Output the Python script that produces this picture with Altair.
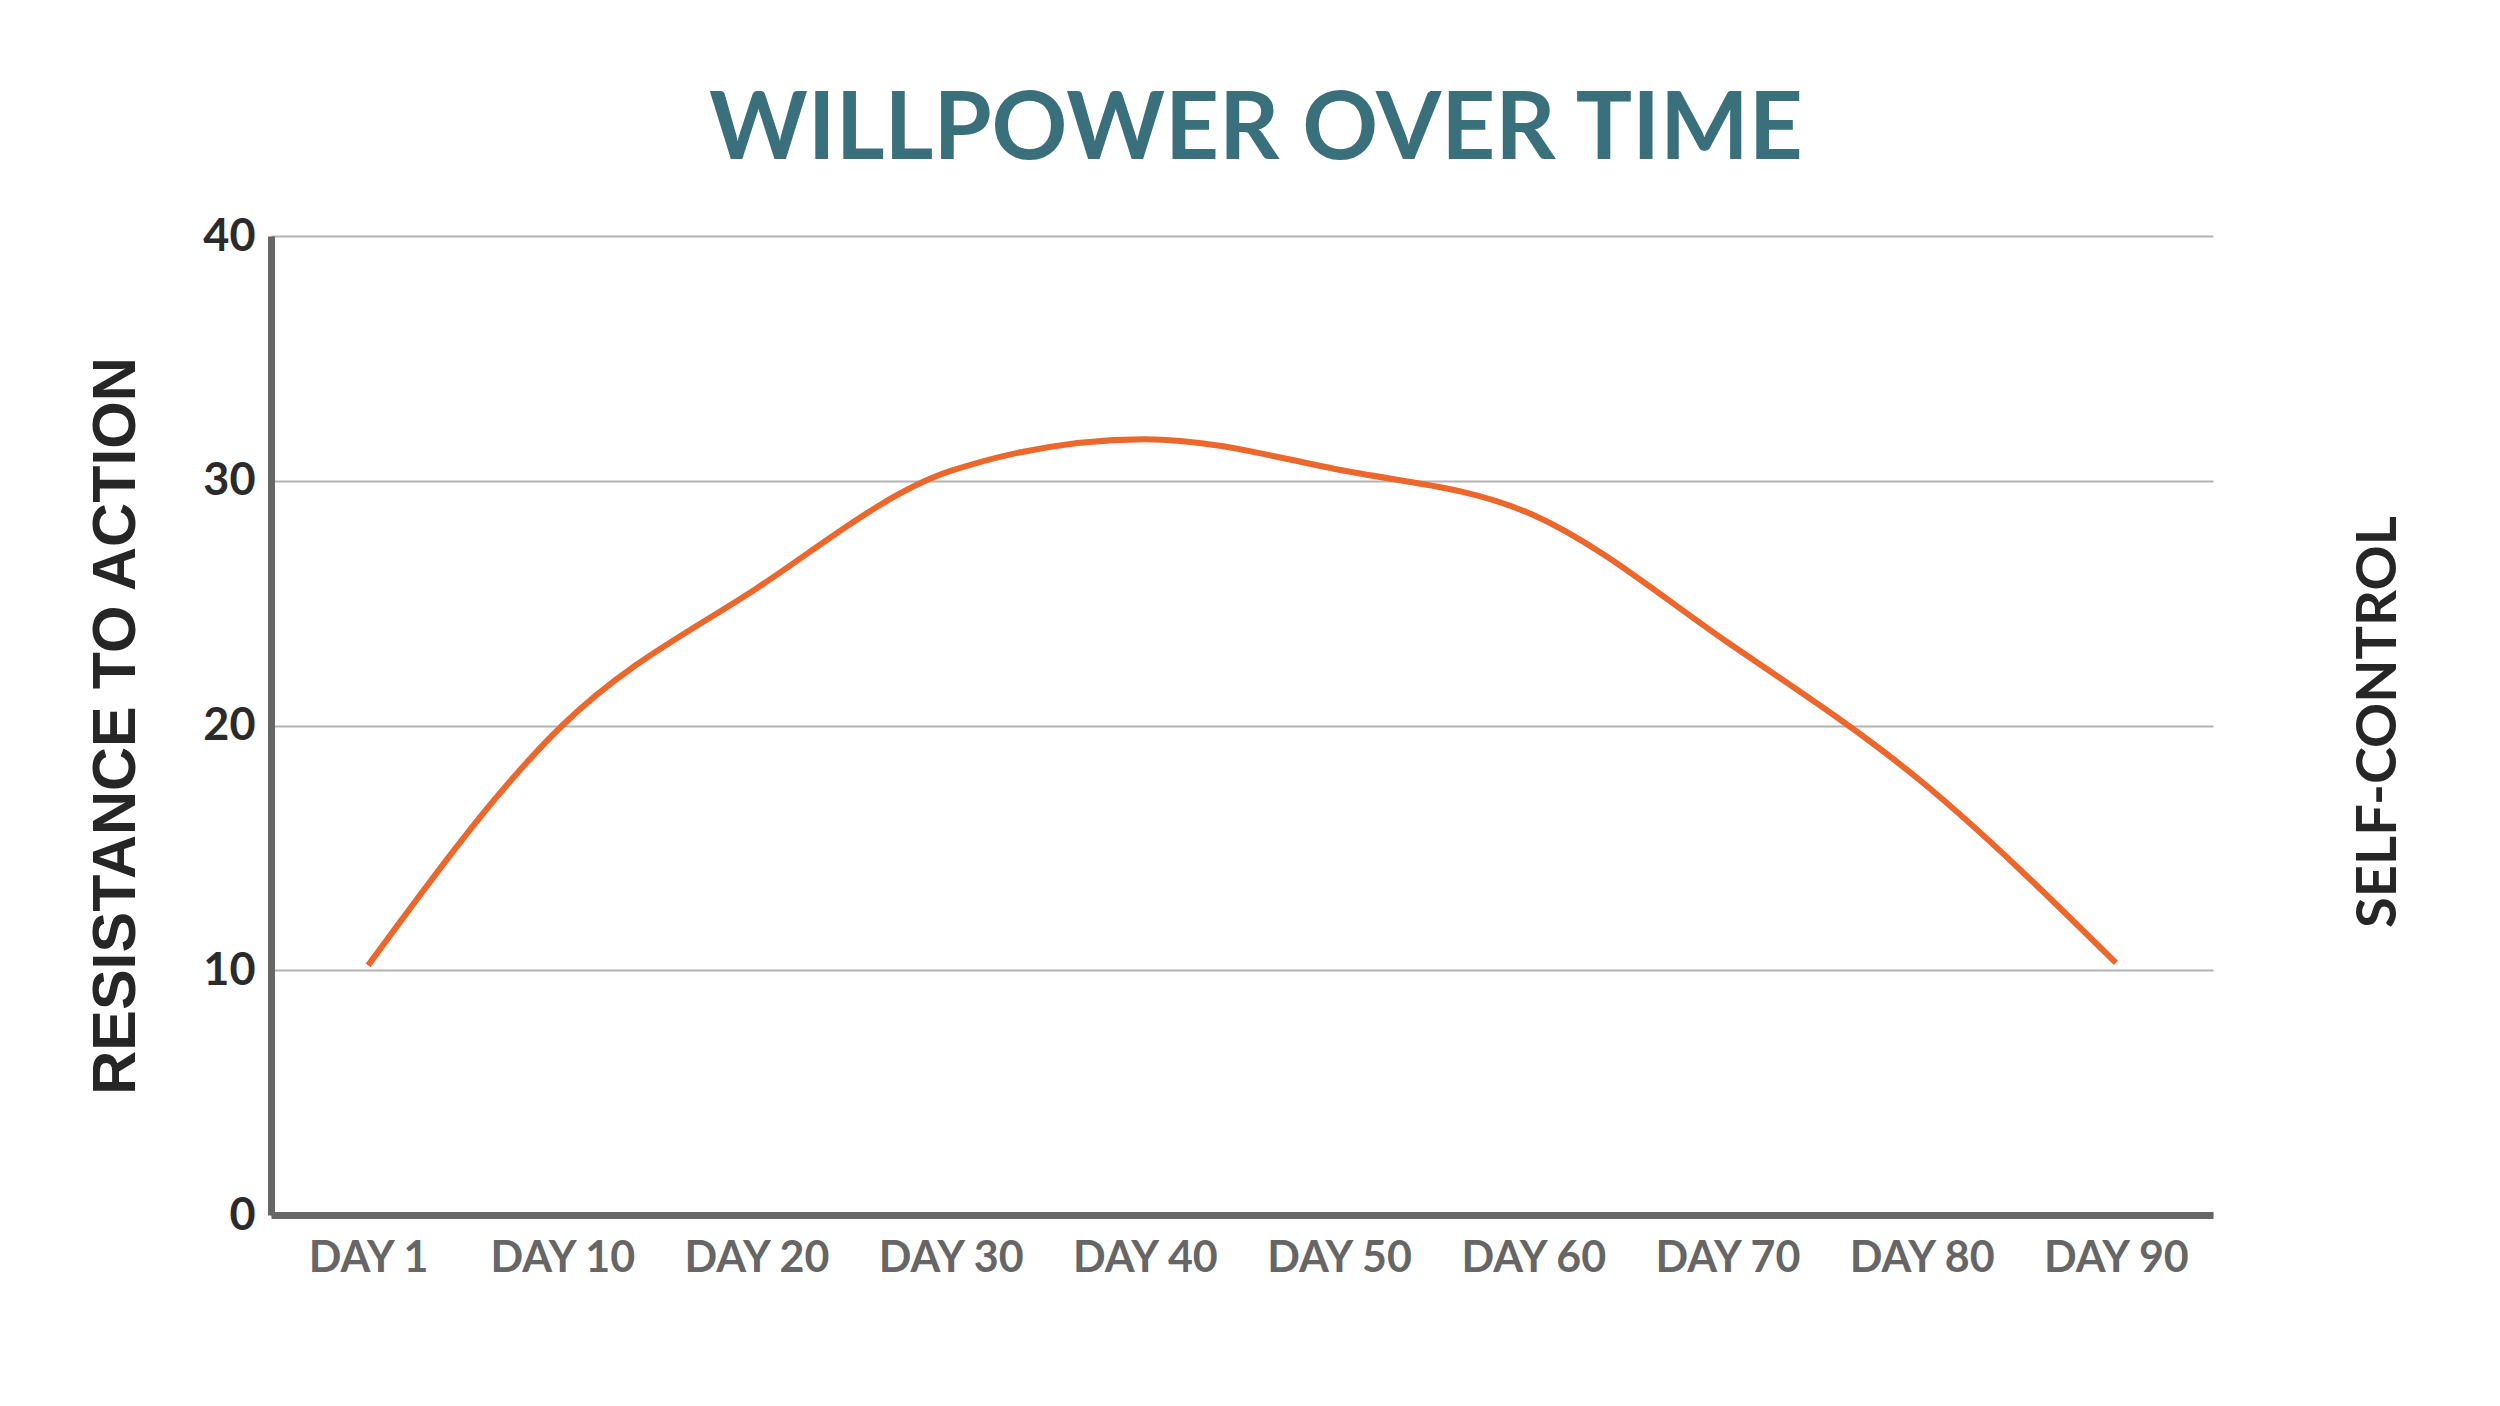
import altair as alt
import pandas as pd

days = ["DAY 1", "DAY 10", "DAY 20", "DAY 30", "DAY 40", "DAY 50", "DAY 60", "DAY 70", "DAY 80", "DAY 90"]
resistance = [10.2, 20.0, 25.6, 30.4, 31.7, 30.45, 28.6, 23.4, 17.7, 10.3]
y_ticks = [0, 10, 20, 30, 40]
right_label = ["SELF-CONTROL"]

df = pd.DataFrame({"day": days, "value": resistance})

W, H = 1942, 979

line = alt.Chart(df).mark_line(
    color="#EC672C", strokeWidth=6, interpolate="monotone"
).encode(
    x=alt.X("day:N", sort=days, scale=alt.Scale(type="point", padding=0.5),
            axis=alt.Axis(title=None, labelAngle=0, labelFont="Lato", labelFontSize=43,
                          labelFontWeight="bold", labelColor="#666666", labelPadding=22,
                          ticks=False, grid=False, domainColor="#666666", domainWidth=7)),
    y=alt.Y("value:Q", scale=alt.Scale(domain=[0, 40], nice=False),
            axis=alt.Axis(values=y_ticks, title="RESISTANCE TO ACTION",
                          titleFont="Liberation Sans", titleFontSize=61,
                          titleFontWeight="bold", titleColor="#262626",
                          titleX=-137, titleY=H / 2, titleAngle=270,
                          titleBaseline="alphabetic", titleAlign="center",
                          labelFont="Lato", labelFontSize=45, labelFontWeight="bold",
                          labelColor="#2b2b2b", labelPadding=16,
                          ticks=False, grid=True, gridColor="#b3b3b3", gridWidth=2,
                          domainColor="#666666", domainWidth=7)),
)

side = alt.Chart(alt.Data(values=[{"t": right_label[0]}])).mark_text(
    font="Lato", fontSize=56, fontWeight="bold", color="#262626", angle=270,
    align="center", baseline="middle"
).encode(
    text="t:N",
    x=alt.value(2108),
    y=alt.value(486),
)

chart = alt.layer(line, side).properties(
    width=W, height=H,
    autosize=alt.AutoSizeParams(type="none"),
    padding={"left": 263, "top": 228, "right": 270, "bottom": 170},
    title=alt.TitleParams("WILLPOWER OVER TIME", font="Lato", fontSize=94,
                          fontWeight="bold", color="#3A707C", anchor="middle",
                          baseline="alphabetic", offset=76, dx=14, dy=115),
).configure(background="white").configure_view(stroke=None)

chart.save("out.html", embed_options={"renderer": "svg", "actions": False})
